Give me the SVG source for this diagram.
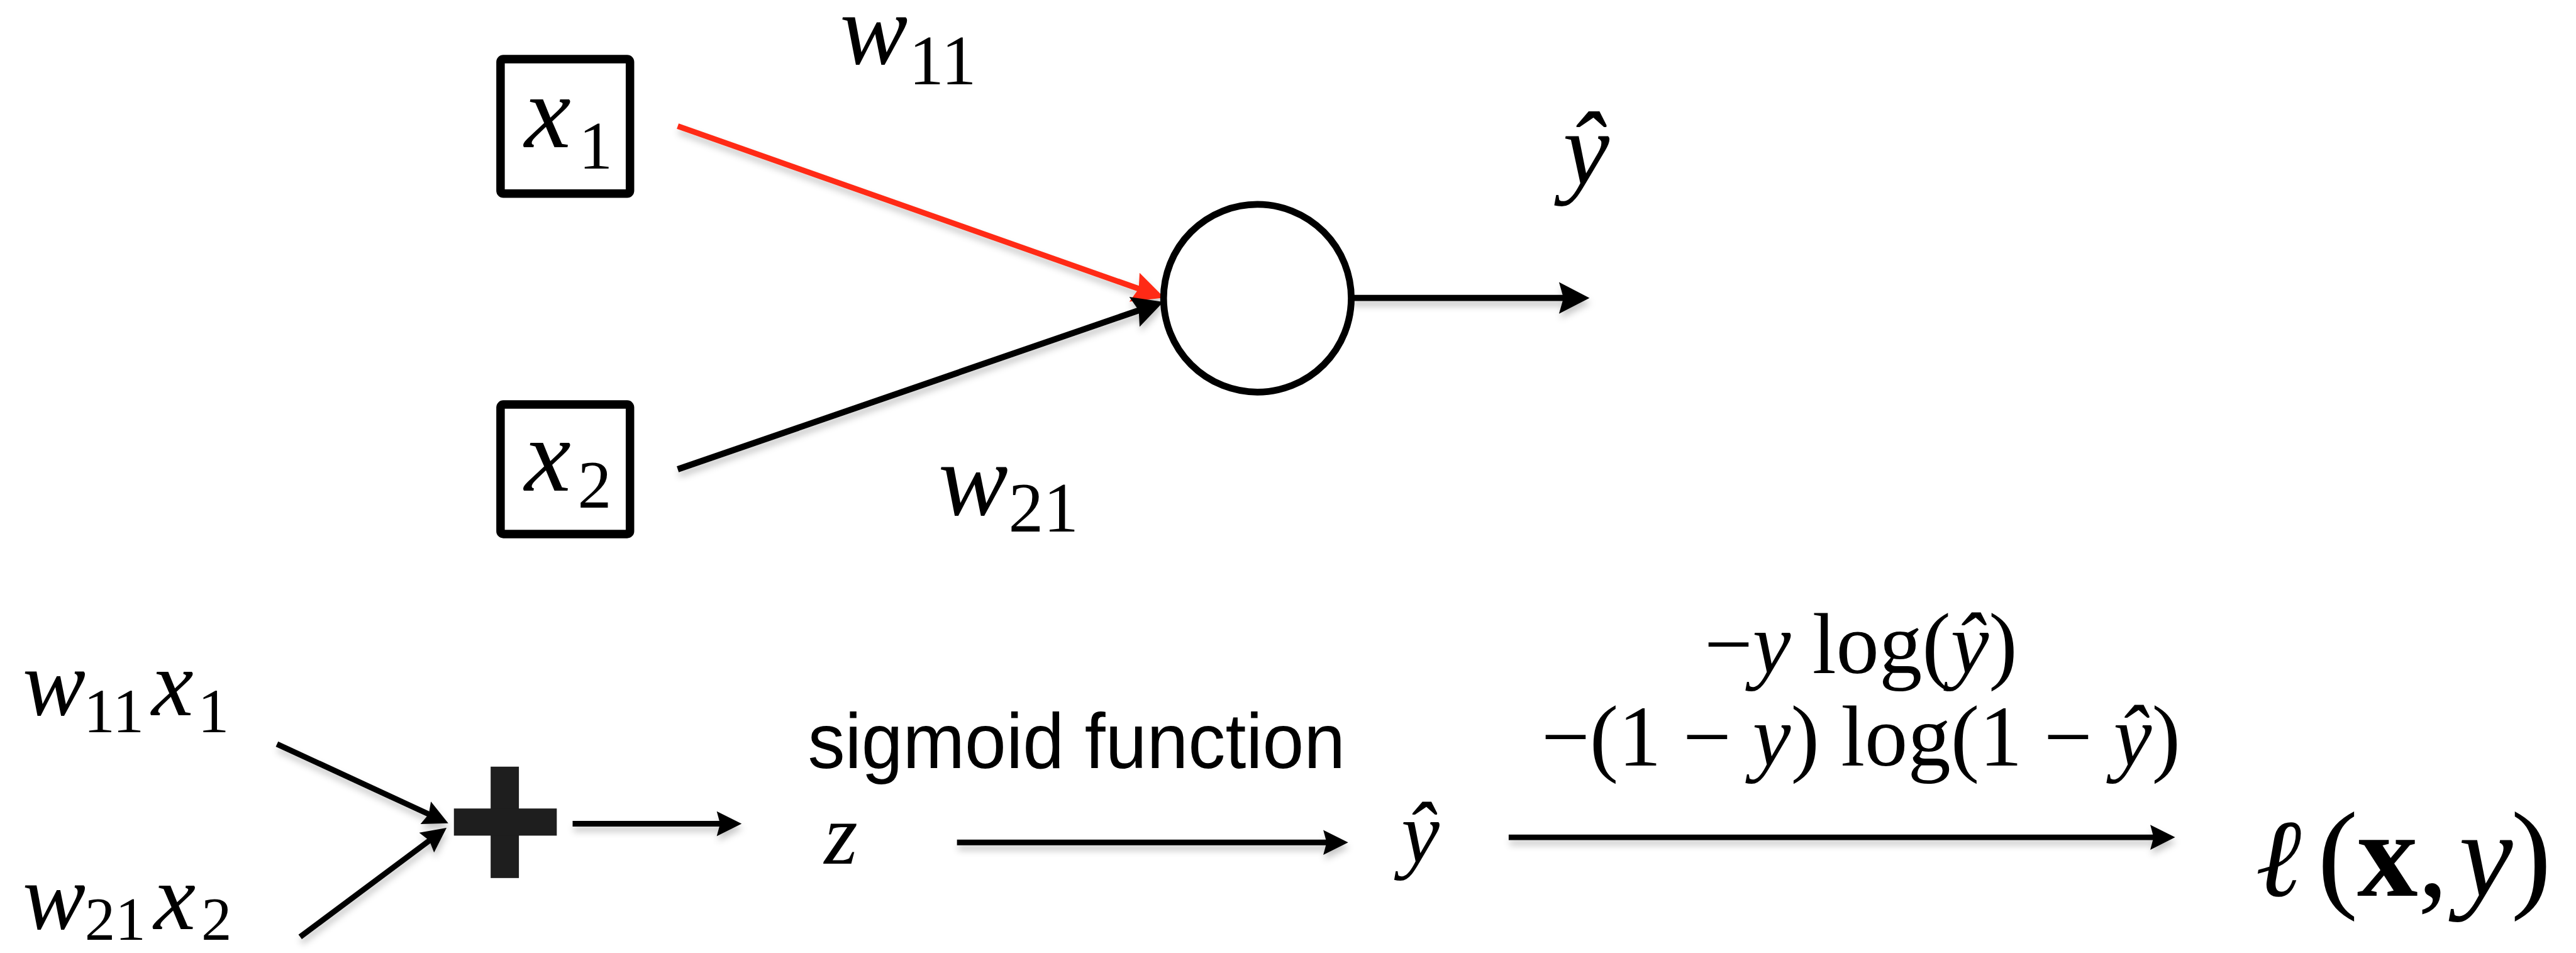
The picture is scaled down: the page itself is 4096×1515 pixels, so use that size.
<svg xmlns="http://www.w3.org/2000/svg" width="4096" height="1515" viewBox="0 0 4096 1515">
<style>
.m{font-family:"Liberation Serif","Times New Roman",serif;font-style:italic;fill:#000}
.u{font-family:"Liberation Serif","Times New Roman",serif;font-style:normal;fill:#000}
.s{font-family:"Liberation Sans",Arial,sans-serif;fill:#000}
.ell{font-family:"DejaVu Serif","Liberation Serif",serif;font-style:italic;fill:#000}
.box{fill:#fff;stroke:#000;stroke-width:15}
.ln{fill:none;stroke:#000;stroke-linecap:butt}
.big{stroke-width:11;marker-end:url(#headBig)}
.red{stroke:#ff2a12;stroke-width:10;marker-end:url(#headRed)}
.sm{stroke-width:10;marker-end:url(#headSm)}
</style>
<defs>
<marker id="headBig" markerUnits="userSpaceOnUse" markerWidth="60" markerHeight="60" viewBox="0 -30 56 60" refX="34" refY="0" orient="auto" overflow="visible">
<path d="M0,-28 L54,0 L0,28 L8,0 z" fill="#000"/>
</marker>
<marker id="headRed" markerUnits="userSpaceOnUse" markerWidth="60" markerHeight="60" viewBox="0 -30 56 60" refX="34" refY="0" orient="auto" overflow="visible">
<path d="M0,-27 L56,0 L0,27 L8,0 z" fill="#ff2a12"/>
</marker>
<marker id="headSm" markerUnits="userSpaceOnUse" markerWidth="50" markerHeight="50" viewBox="0 -25 46 50" refX="27" refY="0" orient="auto" overflow="visible">
<path d="M0,-22 L44,0 L0,22 L6,0 z" fill="#000"/>
</marker>
<filter id="sh" x="-10%" y="-50%" width="120%" height="200%">
<feDropShadow dx="2" dy="9" stdDeviation="6" flood-color="#000" flood-opacity="0.22"/>
</filter>
</defs>
<rect width="4096" height="1515" fill="#fff"/>
<g transform="scale(0.8988)">
<g id="connectors" filter="url(#sh)">
<line class="ln red" x1="1199" y1="223" x2="2039.1" y2="519.3"/>
<line class="ln big" x1="1199" y1="830" x2="2039.1" y2="540.5"/>
<line class="ln big" x1="2391" y1="527" x2="2792" y2="527"/>
<line class="ln sm" x1="490" y1="1316" x2="777.6" y2="1448.9"/>
<line class="ln sm" x1="531" y1="1657" x2="776.4" y2="1474.2"/>
<line class="ln sm" x1="1013" y1="1457" x2="1295" y2="1457"/>
<line class="ln sm" x1="1693" y1="1490" x2="2368" y2="1490"/>
<line class="ln sm" x1="2669" y1="1481" x2="3831" y2="1481"/>
</g>
<g id="node-x1">
<rect class="box" x="885.5" y="104.5" width="229" height="238" rx="5"/>
<text class="m" x="928" y="260" font-size="185">x<tspan class="u" x="1024" y="298" font-size="120">1</tspan></text>
</g>
<g id="node-x2">
<rect class="box" x="885.5" y="715.5" width="229" height="229" rx="5"/>
<text class="m" x="928" y="868" font-size="185">x<tspan class="u" x="1022" y="898" font-size="120">2</tspan></text>
</g>
<g id="node-neuron">
<circle cx="2224.5" cy="527.5" r="166" fill="#fff" stroke="#000" stroke-width="12"/>
</g>
<g id="label-w11">
<text class="m" x="1486" y="112" font-size="180">w<tspan class="u" x="1608" y="149" font-size="124">11</tspan></text>
</g>
<g id="label-w21">
<text class="m" x="1660" y="910" font-size="185">w<tspan class="u" x="1784" y="940" font-size="124">21</tspan></text>
</g>
<g id="label-yhat-top">
<text class="m" x="2806" y="326" font-size="185" text-anchor="middle">ŷ</text>
</g>
<g id="node-w11x1">
<text class="m" x="40" y="1265" font-size="167">w<tspan class="u" x="148" y="1295" font-size="111">11</tspan><tspan class="m" x="268" y="1265" font-size="167">x</tspan><tspan class="u" x="350" y="1295" font-size="111">1</tspan></text>
</g>
<g id="node-w21x2">
<text class="m" x="40" y="1643" font-size="167">w<tspan class="u" x="150" y="1662" font-size="108">21</tspan><tspan class="m" x="272" y="1643" font-size="167">x</tspan><tspan class="u" x="356" y="1662" font-size="108">2</tspan></text>
</g>
<g id="node-sum">
<rect x="868" y="1356" width="50" height="197" fill="#1e1e1e"/>
<rect x="803" y="1430" width="182" height="48" fill="#1e1e1e"/>
</g>
<g id="label-sigmoid">
<text class="s" x="1429" y="1358" font-size="138" textLength="951" lengthAdjust="spacingAndGlyphs">sigmoid function</text>
</g>
<g id="node-z">
<text class="m" x="1458" y="1528" font-size="152">z</text>
</g>
<g id="node-yhat">
<text class="m" x="2513" y="1525" font-size="152" text-anchor="middle">ŷ</text>
</g>
<g id="label-loss">
<text class="u" x="3292" y="1190" font-size="152" text-anchor="middle">−<tspan class="m">y</tspan> log(<tspan class="m">ŷ</tspan>)</text>
<text class="u" x="3292" y="1354" font-size="152" text-anchor="middle">−(1 − <tspan class="m">y</tspan>) log(1 − <tspan class="m">ŷ</tspan>)</text>
</g>
<g id="node-loss">
<text class="ell" x="3990" y="1584" font-size="195">ℓ</text>
<text class="u" x="4100" y="1584" font-size="215">(<tspan font-weight="bold" x="4170">x</tspan><tspan x="4277">,</tspan><tspan class="m" x="4350">y</tspan><tspan x="4442">)</tspan></text>
</g>
</g>
</svg>
